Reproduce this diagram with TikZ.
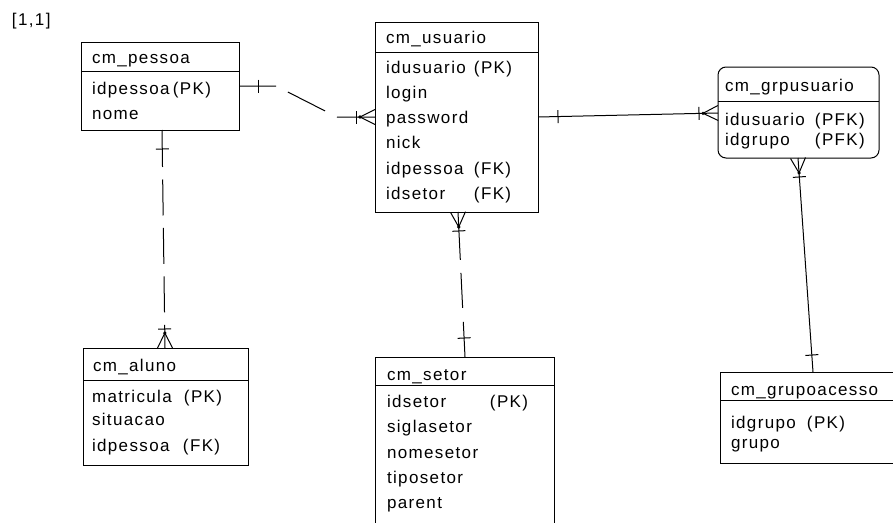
\documentclass[tikz,border=0pt]{standalone}
\usepackage{fontspec}
\newfontfamily\erfont[LetterSpace=8]{Liberation Sans}
\usetikzlibrary{calc}
% one-end mark: tick at distance #1 from #2 towards #3
\newcommand\erOne[3][19]{%
  \coordinate (erT) at ($(#2)!#1pt!(#3)$);
  \draw ($(erT)!6.5pt!90:(#3)$) -- ($(erT)!6.5pt!-90:(#3)$);
}
% many-end mark: crow's foot at #1 towards #2, plus tick
\newcommand\erMany[2]{%
  \coordinate (erC) at ($(#1)!15pt!(#2)$);
  \coordinate (erT) at ($(#1)!19pt!(#2)$);
  \draw ($(#1)!7.5pt!90:(#2)$) -- (erC) -- ($(#1)!7.5pt!-90:(#2)$);
  \fill (erC) circle (1.8pt);
  \draw ($(erT)!6.5pt!90:(#2)$) -- ($(erT)!6.5pt!-90:(#2)$);
}
\begin{document}
\begin{tikzpicture}[x=1pt,y=-1pt,line width=1pt,
  ebox/.style={draw,rectangle,inner sep=0pt,outer sep=0pt,anchor=north west},
  etxt/.style={anchor=base west,inner sep=0pt,outer sep=0pt,font={\erfont\fontsize{17pt}{20pt}\selectfont}}]
\useasboundingbox (0,0) rectangle (893,522);
\clip (0,0) rectangle (893,522);

\node[etxt] (tag) at (12,25) {[1,1]};

% cm_pessoa
\node[ebox,minimum width=158pt,minimum height=88pt] (pessoa) at (81,42) {};
\draw ([yshift=-29pt]pessoa.north west) -- ([yshift=-29pt]pessoa.north east);
\node[etxt] (pessoaH) at (92,63) {cm\_pessoa};
\node[etxt] (pessoa1) at (92,94) {\makebox[81pt][l]{idpessoa}(PK)};
\node[etxt] (pessoa2) at (92,119) {nome};

% cm_usuario
\node[ebox,minimum width=163pt,minimum height=190pt] (usuario) at (375,22) {};
\draw ([yshift=-30pt]usuario.north west) -- ([yshift=-30pt]usuario.north east);
\node[etxt] (usuarioH) at (386,43) {cm\_usuario};
\node[etxt] (usuario1) at (386,73) {\makebox[88pt][l]{idusuario}(PK)};
\node[etxt] (usuario2) at (386,98) {login};
\node[etxt] (usuario3) at (386,123) {password};
\node[etxt] (usuario4) at (386,148) {nick};
\node[etxt] (usuario5) at (386,174) {\makebox[88pt][l]{idpessoa}(FK)};
\node[etxt] (usuario6) at (386,199) {\makebox[88pt][l]{idsetor}(FK)};

% cm_grpusuario
\node[ebox,rounded corners=8pt,minimum width=161pt,minimum height=91pt] (grp) at (718,67) {};
\draw ([yshift=-34pt]grp.north west) -- ([yshift=-34pt]grp.north east);
\node[etxt] (grpH) at (725,91) {cm\_grpusuario};
\node[etxt] (grp1) at (725,125) {\makebox[90pt][l]{idusuario}(PFK)};
\node[etxt] (grp2) at (725,145) {\makebox[90pt][l]{idgrupo}(PFK)};

% cm_aluno
\node[ebox,minimum width=165pt,minimum height=117pt] (aluno) at (83,348) {};
\draw ([yshift=-32pt]aluno.north west) -- ([yshift=-32pt]aluno.north east);
\node[etxt] (alunoH) at (93,371) {cm\_aluno};
\node[etxt] (aluno1) at (92,402) {\makebox[92pt][l]{matricula}(PK)};
\node[etxt] (aluno2) at (92,425) {situacao};
\node[etxt] (aluno3) at (92,451) {\makebox[91pt][l]{idpessoa}(FK)};

% cm_setor
\node[ebox,minimum width=179pt,minimum height=180pt] (setor) at (375,357) {};
\draw ([yshift=-28pt]setor.north west) -- ([yshift=-28pt]setor.north east);
\node[etxt] (setorH) at (387,380) {cm\_setor};
\node[etxt] (setor1) at (387,407) {\makebox[103pt][l]{idsetor}(PK)};
\node[etxt] (setor2) at (387,432) {siglasetor};
\node[etxt] (setor3) at (387,458) {nomesetor};
\node[etxt] (setor4) at (387,483) {tiposetor};
\node[etxt] (setor5) at (387,508) {parent};

% cm_grupoacesso
\node[ebox,minimum width=190pt,minimum height=91pt] (gacesso) at (720,372) {};
\draw ([yshift=-28pt]gacesso.north west) -- ([yshift=-28pt]gacesso.north east);
\node[etxt] (gacessoH) at (731,395) {cm\_grupoacesso};
\node[etxt] (gacesso1) at (731,428) {\makebox[76pt][l]{idgrupo}(PK)};
\node[etxt] (gacesso2) at (731,448) {grupo};

% pessoa -- usuario
\coordinate (c1a) at ([yshift=-44pt]pessoa.north east);
\coordinate (c1b) at ([yshift=-95pt]usuario.north west);
\coordinate (c1p) at ([xshift=37pt]c1a);
\coordinate (c1q) at ([xshift=-38pt]c1b);
\draw[dash pattern=on 37pt off 13.4pt on 41.6pt off 13.4pt on 40pt] (c1a) -- (c1p) -- (c1q) -- (c1b);
\erOne{c1a}{c1p}
\erMany{c1b}{c1q}

% pessoa -- aluno
\coordinate (c2a) at ([xshift=81pt]pessoa.south west);
\coordinate (c2b) at ([xshift=82pt]aluno.north west);
\draw[dash pattern=on 37pt off 12.5pt on 36pt off 12.5pt on 36pt off 12.5pt on 36pt off 12.5pt on 40pt] (c2a) -- (c2b);
\erOne{c2a}{c2b}
\erMany{c2b}{c2a}

% usuario -- setor
\coordinate (c3a) at ([xshift=83pt]usuario.south west);
\coordinate (c3b) at ([xshift=90pt]setor.north west);
\draw[dash pattern=on 48pt off 13pt on 35pt off 14pt on 40pt] (c3a) -- (c3b);
\erMany{c3a}{c3b}
\erOne{c3b}{c3a}

% usuario -- grpusuario
\coordinate (c4a) at ([yshift=-95pt]usuario.north east);
\coordinate (c4b) at ([yshift=-46pt]grp.north west);
\draw (c4a) -- (c4b);
\erOne[20]{c4a}{c4b}
\erMany{c4b}{c4a}

% grpusuario -- grupoacesso
\coordinate (c5a) at ([xshift=80pt]grp.south west);
\coordinate (c5b) at ([xshift=93pt]gacesso.north west);
\draw (c5a) -- (c5b);
\erMany{c5a}{c5b}
\erOne[17]{c5b}{c5a}
\end{tikzpicture}
\end{document}
